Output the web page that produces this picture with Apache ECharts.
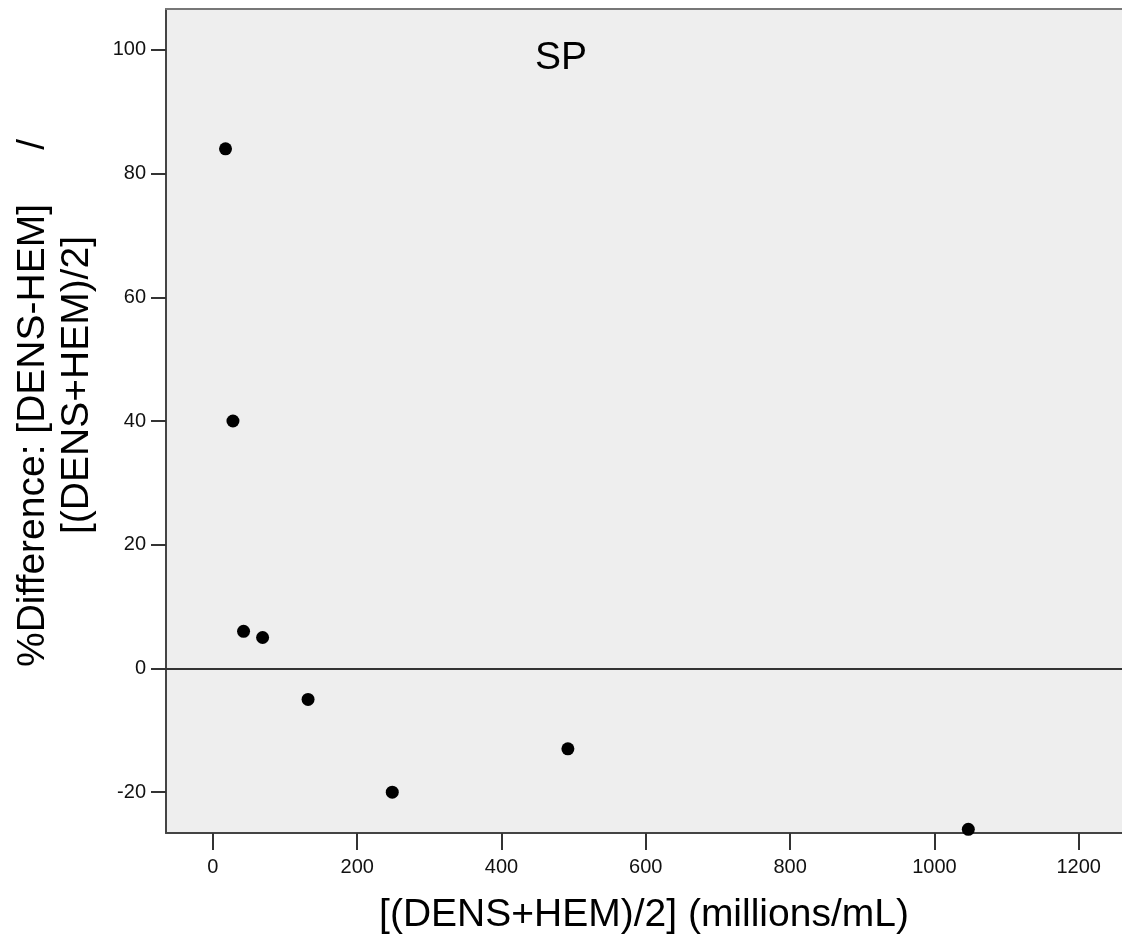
<!DOCTYPE html>
<html>
<head>
<meta charset="utf-8">
<script src="https://cdn.jsdelivr.net/npm/echarts@6/dist/echarts.min.js"></script>
<style>
html,body{margin:0;padding:0;background:#fff;}
#c{width:1122px;height:943px;}
</style>
</head>
<body>
<div id="c"></div>
<script>
// Data
const xValues = [17.5, 27.8, 42.5, 68.9, 131.9, 248.6, 492, 1047];
const yValues = [84, 40, 6, 5, -5, -20, -13, -26];
const xTicks = [0, 200, 400, 600, 800, 1000, 1200];
const yTicks = [-20, 0, 20, 40, 60, 80, 100];
const panelLabel = 'SP';
const xTitle = '[(DENS+HEM)/2] (millions/mL)';
const yTitleLine1 = '%Difference: [DENS-HEM]     /';
const yTitleLine2 = '[(DENS+HEM)/2]';

const points = xValues.map((x, i) => [x, yValues[i]]);
const FONT = '"Liberation Sans", Arial, sans-serif';

const chart = echarts.init(document.getElementById('c'), null, {renderer: 'canvas'});
chart.setOption({
  animation: false,
  backgroundColor: '#ffffff',
  grid: {left: 166, top: 9, right: 0, bottom: 110, show: true, backgroundColor: '#eeeeee', borderWidth: 0},
  xAxis: [{
    type: 'value', min: -65, max: 1260, position: 'bottom',
    name: xTitle, nameLocation: 'middle', nameGap: 63,
    nameTextStyle: {fontFamily: FONT, fontSize: 39, color: '#000'},
    axisLine: {show: true, onZero: false, lineStyle: {color: '#444', width: 2}},
    axisTick: {show: true, customValues: xTicks, length: 17, lineStyle: {color: '#333', width: 2}},
    axisLabel: {customValues: xTicks, margin: 24, fontFamily: FONT, fontSize: 20, color: '#111',
      formatter: v => String(v)},
    splitLine: {show: false}
  }, {
    type: 'value', min: -65, max: 1260, position: 'top',
    axisLine: {show: true, onZero: false, lineStyle: {color: '#777', width: 2}},
    axisTick: {show: false}, axisLabel: {show: false}, splitLine: {show: false}
  }],
  yAxis: {
    type: 'value', min: -26.6, max: 106.6,
    axisLine: {show: true, onZero: false, lineStyle: {color: '#444', width: 2}},
    axisTick: {show: true, customValues: yTicks, length: 15, lineStyle: {color: '#333', width: 2}},
    axisLabel: {customValues: yTicks, margin: 20, fontFamily: FONT, fontSize: 20, color: '#111',
      formatter: v => String(v)},
    splitLine: {show: false}
  },
  graphic: [
    {type: 'text', x: 561, y: 58, style: {text: panelLabel, font: '39px ' + FONT, fill: '#000', align: 'center', verticalAlign: 'middle'}},
    {type: 'text', x: 33, y: 403, rotation: Math.PI / 2, style: {text: yTitleLine1, font: '39px ' + FONT, fill: '#000', align: 'center', verticalAlign: 'middle'}},
    {type: 'text', x: 77, y: 385, rotation: Math.PI / 2, style: {text: yTitleLine2, font: '39px ' + FONT, fill: '#000', align: 'center', verticalAlign: 'middle'}}
  ],
  series: [{
    type: 'scatter', xAxisIndex: 0, yAxisIndex: 0,
    data: points, symbol: 'circle', symbolSize: 13,
    itemStyle: {color: '#000', opacity: 1},
    markLine: {
      silent: true, symbol: ['none', 'none'], label: {show: false},
      lineStyle: {color: '#333', width: 2, type: 'solid'},
      data: [{yAxis: 0}]
    }
  }]
});
</script>
</body>
</html>
